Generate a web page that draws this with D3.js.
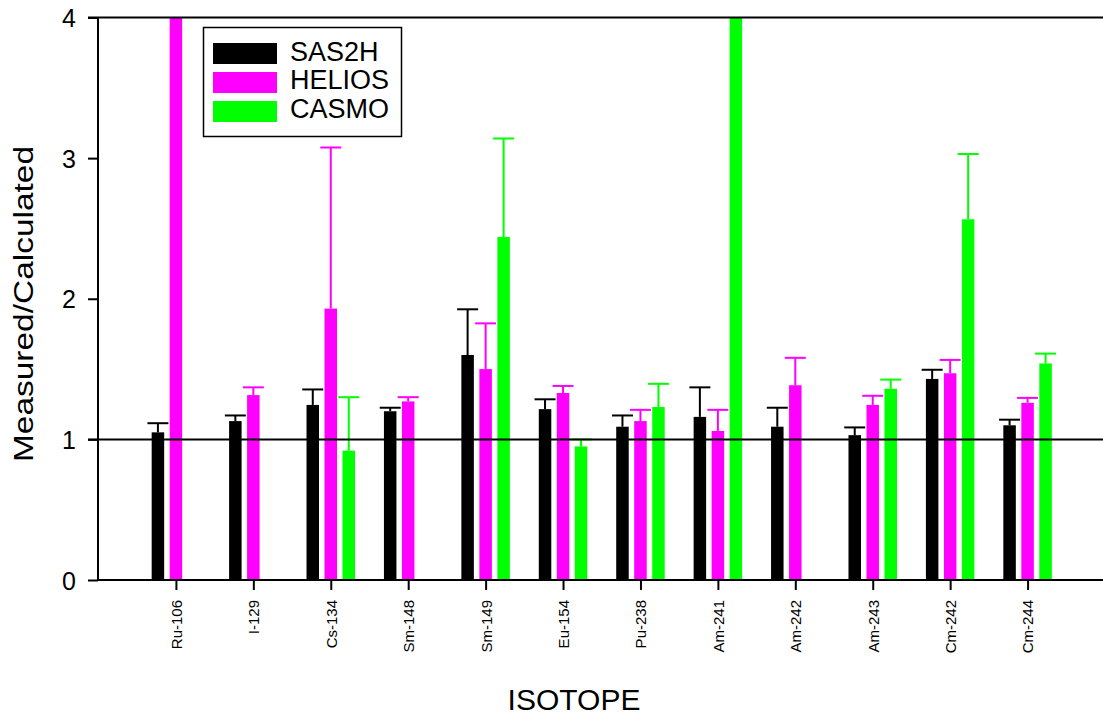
<!DOCTYPE html>
<html><head><meta charset="utf-8">
<script src="https://cdn.jsdelivr.net/npm/d3@7"></script>
<style>body{margin:0;background:#fff}svg{display:block}text{font-family:"Liberation Sans",Arial,sans-serif}</style>
</head><body><svg id="c" width="1103" height="718"></svg>
<script>
const categories = ["Ru-106","I-129","Cs-134","Sm-148","Sm-149","Eu-154","Pu-238","Am-241","Am-242","Am-243","Cm-242","Cm-244"];
const seriesNames = ["SAS2H","HELIOS","CASMO"];
const seriesColors = ["#000000","#ff00ff","#00ff00"];
// bar values (null = no bar); values at 4 run off the top of the chart
const sas2h  = [1.05,1.13,1.245,1.20,1.60,1.215,1.09,1.16,1.09,1.03,1.43,1.10];
const helios = [4.0,1.315,1.93,1.27,1.50,1.33,1.13,1.06,1.385,1.245,1.47,1.26];
const casmo  = [null,null,0.92,null,2.44,0.95,1.23,4.0,null,1.36,2.565,1.54];
// upper end of error bars (null = none shown)
const sas2hErr  = [1.115,1.17,1.355,1.225,1.925,1.285,1.17,1.37,1.225,1.085,1.495,1.14];
const heliosErr = [null,1.37,3.075,1.30,1.825,1.38,1.21,1.21,1.58,1.31,1.565,1.295];
const casmoErr  = [null,null,1.30,null,3.14,1.00,1.395,null,null,1.425,3.03,1.61];
const yTicks = [0,1,2,3,4];

const svg = d3.select("#c");
const x = d3.scaleLinear().domain([0,13]).range([98.5,1105]);
const y = d3.scaleLinear().domain([0,4]).range([580,17.5]);
const offsets = [-18,0,18];
const barW = 12.5;
const vals = [sas2h,helios,casmo];
const errs = [sas2hErr,heliosErr,casmoErr];

svg.append("defs").append("clipPath").attr("id","pc").append("rect")
  .attr("x",98).attr("y",y(4)).attr("width",1010).attr("height",y(0)-y(4));
const plot = svg.append("g").attr("clip-path","url(#pc)");

vals.forEach((arr,s)=>{
  const data = categories.map((c,i)=>({i,v:arr[i],e:errs[s][i]}));
  const eg = plot.append("g").attr("stroke",seriesColors[s]).attr("stroke-width",2);
  data.filter(d=>d.v!=null && d.e!=null).forEach(d=>{
    const cx = x(d.i+1)+offsets[s];
    eg.append("line").attr("x1",cx).attr("x2",cx).attr("y1",y(d.v)).attr("y2",y(d.e));
    eg.append("line").attr("x1",cx-10.5).attr("x2",cx+10.5).attr("y1",y(d.e)).attr("y2",y(d.e));
  });
  plot.append("g").selectAll("rect").data(data.filter(d=>d.v!=null)).join("rect")
    .attr("x",d=>x(d.i+1)+offsets[s]-barW/2)
    .attr("width",barW)
    .attr("y",d=>y(d.v))
    .attr("height",d=>y(0)-y(d.v))
    .attr("fill",seriesColors[s]);
});

svg.append("line").attr("x1",88).attr("x2",1103).attr("y1",y(1)).attr("y2",y(1)).attr("stroke","#000").attr("stroke-width",2);
svg.append("line").attr("x1",88).attr("x2",1103).attr("y1",y(4)).attr("y2",y(4)).attr("stroke","#000").attr("stroke-width",2);

const ya = svg.append("g").attr("transform","translate(98,0)")
  .call(d3.axisLeft(y).tickValues(yTicks).tickFormat(d3.format("d")).tickSize(10).tickPadding(12));
ya.select(".domain").attr("stroke-width",2).attr("d","M0,"+y(4)+"V"+y(0));
ya.selectAll(".tick line").attr("stroke-width",2);
ya.selectAll(".tick text").attr("font-size",25).attr("fill","#000").attr("dy","0.36em");

const xa = svg.append("g").attr("transform","translate(0,580)")
  .call(d3.axisBottom(x).tickValues(d3.range(1,13)).tickFormat(d=>categories[d-1]).tickSize(10));
xa.select(".domain").attr("stroke-width",2).attr("d","M98,0H1103");
xa.selectAll(".tick line").attr("stroke-width",2);
xa.selectAll(".tick text").attr("font-size",15).attr("fill","#000")
  .attr("transform","rotate(-90)").attr("text-anchor","end")
  .attr("x",-20).attr("y",0).attr("dy","0.36em");

svg.append("text").attr("x",574).attr("y",710).attr("text-anchor","middle")
  .attr("font-size",30).text("ISOTOPE");
svg.append("text").attr("transform","translate(33,304) rotate(-90)").attr("text-anchor","middle")
  .attr("font-size",27).attr("textLength",316).attr("lengthAdjust","spacingAndGlyphs")
  .text("Measured/Calculated");

const lg = svg.append("g");
lg.append("rect").attr("x",203.5).attr("y",27.5).attr("width",198).attr("height",109)
  .attr("fill","#fff").attr("stroke","#000").attr("stroke-width",1.5);
const rowY = [43,72,101];
const baseY = [61,89,118];
seriesNames.forEach((n,i)=>{
  lg.append("rect").attr("x",213).attr("y",rowY[i]).attr("width",64).attr("height",21).attr("fill",seriesColors[i]);
  lg.append("text").attr("x",290).attr("y",baseY[i]).attr("font-size",27).text(n);
});
</script></body></html>
